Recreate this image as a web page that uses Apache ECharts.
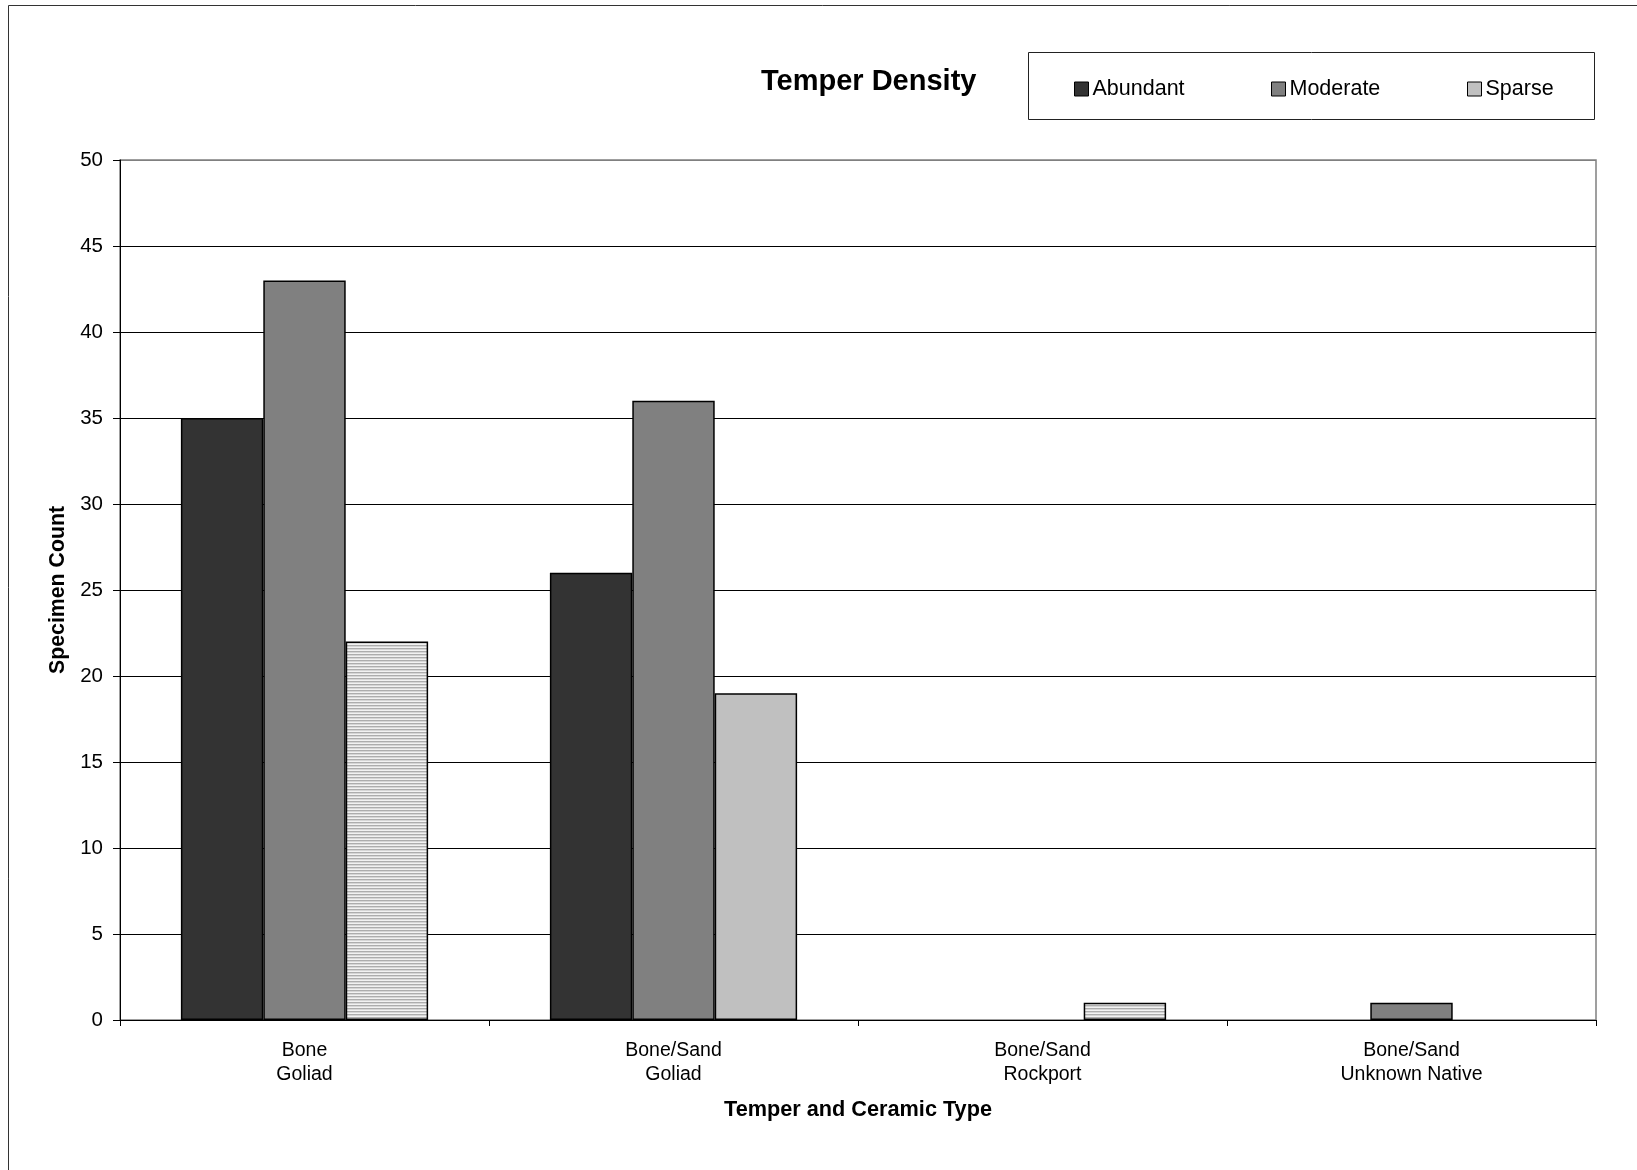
<!DOCTYPE html>
<html>
<head>
<meta charset="utf-8">
<script src="https://cdn.jsdelivr.net/npm/echarts@6/dist/echarts.min.js"></script>
<style>html,body{margin:0;padding:0;background:#fff;}#c{width:1637px;height:1170px;}</style>
</head>
<body>
<div id="c"></div>
<script>
const categories = ['Bone\nGoliad', 'Bone/Sand\nGoliad', 'Bone/Sand\nRockport', 'Bone/Sand\nUnknown Native'];
const seriesNames = ['Abundant', 'Moderate', 'Sparse'];
const abundant = [35, 26, 0, 0];
const moderate = [43, 36, 0, 1];
const sparse = [22, 19, 1, 0];
const yTicks = [0, 5, 10, 15, 20, 25, 30, 35, 40, 45, 50];
const sparseHatched = [true, false, true, false];

const FONT = '"Liberation Sans", Arial, sans-serif';

const pc = document.createElement('canvas');
pc.width = 4; pc.height = 3;
const g = pc.getContext('2d');
g.fillStyle = '#f2f2f2'; g.fillRect(0, 0, 4, 3);
g.fillStyle = '#adadad'; g.fillRect(0, 0, 4, 1);
g.fillStyle = '#d6d6d6'; g.fillRect(0, 1, 4, 1);
const hatch = { image: pc, repeat: 'repeat' };

const chart = echarts.init(document.getElementById('c'), null, { renderer: 'canvas' });

const barStyle = { borderColor: '#000', borderWidth: 1.5 };
const legendPos = [1074, 1271, 1467];

function toData(arr, hatched) {
  return arr.map((v, i) => {
    const st = {};
    if (hatched && hatched[i]) st.color = hatch;
    if (v === 0) st.borderWidth = 0;
    return Object.keys(st).length ? { value: v, itemStyle: st } : v;
  });
}

const option = {
  animation: false,
  backgroundColor: '#fff',
  title: {
    text: 'Temper Density',
    left: 761, top: 65,
    padding: 0,
    textStyle: { fontFamily: FONT, fontSize: 29, fontWeight: 'bold', color: '#000', lineHeight: 34 }
  },
  legend: seriesNames.map((n, i) => ({
    data: [n],
    left: legendPos[i], top: 77,
    padding: 0,
    itemWidth: 14, itemHeight: 14, itemGap: 0,
    icon: 'rect',
    itemStyle: { borderColor: '#000', borderWidth: 1 },
    textStyle: { fontFamily: FONT, fontSize: 21.5, color: '#000', lineHeight: 24, padding: [0, 0, 0, -1] }
  })),
  graphic: [
    { type: 'rect', shape: { x: 1028.5, y: 52.5, width: 566, height: 67 }, style: { fill: 'none', stroke: '#222', lineWidth: 1 }, z: -1 },
    { type: 'line', shape: { x1: 8.5, y1: 5.5, x2: 8.5, y2: 1170 }, style: { stroke: '#333', lineWidth: 1 } },
    { type: 'line', shape: { x1: 8.5, y1: 5.5, x2: 1637, y2: 5.5 }, style: { stroke: '#333', lineWidth: 1 } }
  ],
  grid: { left: 120, right: 41, top: 160, bottom: 150, show: true, borderColor: '#808080', borderWidth: 1.5, containLabel: false },
  xAxis: {
    type: 'category',
    data: categories,
    name: 'Temper and Ceramic Type',
    nameLocation: 'middle',
    nameGap: 79,
    nameTextStyle: { fontFamily: FONT, fontSize: 21.7, fontWeight: 'bold', color: '#000' },
    axisLine: { lineStyle: { color: '#000', width: 1 } },
    axisTick: { show: true, length: 6, lineStyle: { color: '#000' } },
    axisLabel: { fontFamily: FONT, fontSize: 19.5, color: '#000', lineHeight: 24, margin: 19 },
    splitLine: { show: false }
  },
  yAxis: {
    type: 'value',
    min: yTicks[0], max: yTicks[yTicks.length - 1], interval: yTicks[1] - yTicks[0],
    name: 'Specimen Count',
    nameLocation: 'middle',
    nameGap: 51,
    nameRotate: 90,
    nameTextStyle: { fontFamily: FONT, fontSize: 21.3, fontWeight: 'bold', color: '#000' },
    axisLine: { show: true, lineStyle: { color: '#000', width: 1 } },
    axisTick: { show: true, length: 7, lineStyle: { color: '#000' } },
    axisLabel: { fontFamily: FONT, fontSize: 20.5, color: '#000', margin: 17 },
    splitLine: { show: true, lineStyle: { color: yTicks.map((t, i) => i === yTicks.length - 1 ? '#808080' : '#000'), width: 1 } }
  },
  series: [
    { name: seriesNames[0], type: 'bar', data: toData(abundant), barGap: '0%', barCategoryGap: '33%', itemStyle: Object.assign({ color: '#333333' }, barStyle) },
    { name: seriesNames[1], type: 'bar', data: toData(moderate), barGap: '0%', barCategoryGap: '33%', itemStyle: Object.assign({ color: '#808080' }, barStyle) },
    { name: seriesNames[2], type: 'bar', barGap: '0%', barCategoryGap: '33%',
      data: toData(sparse, sparseHatched),
      itemStyle: Object.assign({ color: '#c0c0c0' }, barStyle) }
  ]
};
chart.setOption(option);
</script>
</body>
</html>
